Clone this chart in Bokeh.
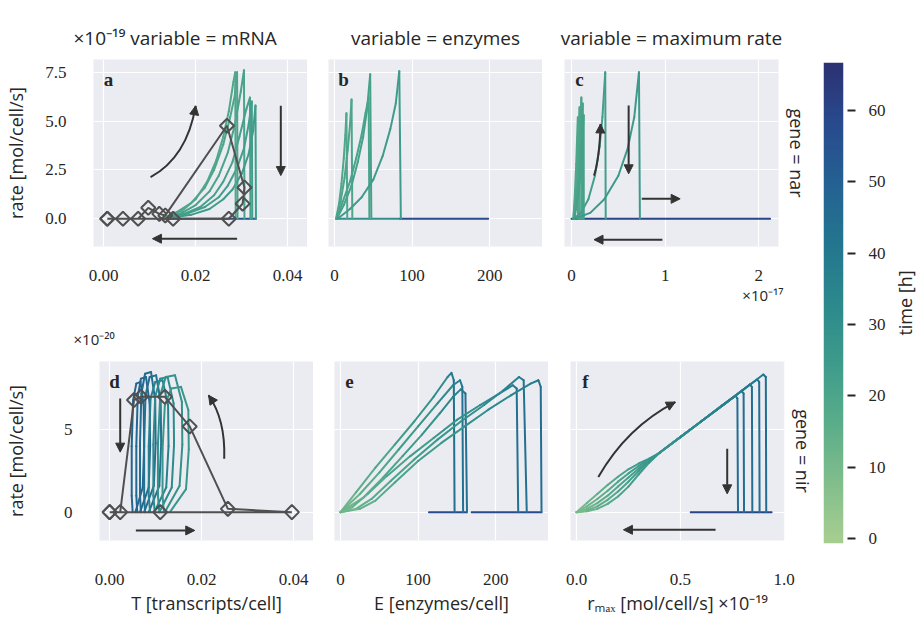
import numpy as np
from bokeh.plotting import figure
from bokeh.models import (Range1d, FixedTicker, PrintfTickFormatter, Label, Arrow, NormalHead,
                          LinearColorMapper, ColumnDataSource, Title)
from bokeh.layouts import row, column
from bokeh.transform import transform
from bokeh.embed import file_html
from bokeh.resources import INLINE

# ---------------- data ----------------
TIME_MAX = 66.7
CBAR_TICKS = [0, 10, 20, 30, 40, 50, 60]

# panel a : nar, rate vs mRNA  (rate in 1e-19 mol/cell/s)
A_X = [[0.0125, 0.016, 0.019, 0.022, 0.024, 0.026, 0.0275, 0.0285, 0.0290, 0.0291],
       [0.0128, 0.017, 0.020, 0.023, 0.025, 0.027, 0.0285, 0.0298, 0.0305, 0.0306],
       [0.0130, 0.018, 0.021, 0.024, 0.026, 0.028, 0.0295, 0.0310, 0.0318, 0.0319],
       [0.0130, 0.018, 0.022, 0.025, 0.027, 0.029, 0.0305, 0.0315, 0.0322, 0.0323],
       [0.0132, 0.019, 0.023, 0.026, 0.028, 0.030, 0.0315, 0.0325, 0.0330, 0.0331],
       [0.0125, 0.017, 0.020, 0.0225, 0.0245, 0.026, 0.0272, 0.0282, 0.0286, 0.0287]]
A_Y = [[0, 0.35, 0.8, 1.6, 2.5, 3.8, 5.2, 6.3, 7.5, 0],
       [0, 0.3, 0.7, 1.4, 2.2, 3.4, 4.8, 6.5, 7.6, 0],
       [0, 0.3, 0.6, 1.2, 1.9, 2.9, 4.2, 5.6, 6.2, 0],
       [0, 0.25, 0.6, 1.1, 1.7, 2.6, 3.6, 4.8, 6.0, 0],
       [0, 0.2, 0.5, 1.0, 1.5, 2.3, 3.3, 4.5, 5.8, 0],
       [0, 0.4, 1.0, 1.9, 3.0, 4.2, 5.5, 7.0, 7.5, 0]]
A_T = [20, 21, 22, 23, 24, 19]
A_BASE_X = [0.0331, 0.0125]
A_BASE_Y = [0, 0]
A_BASE_T = 55
A_DIAM_X = [0.0008, 0.0042, 0.0075, 0.0097, 0.0121, 0.0134, 0.0268, 0.0306, 0.0302, 0.0272, 0.0151, 0.0008]
A_DIAM_Y = [0, 0, 0, 0.56, 0.25, 0.17, 4.76, 1.6, 0.77, 0, 0, 0]

# panel b : nar, rate vs enzymes
B_X = [[2, 6, 9, 12, 14, 15.4, 16.5],
       [2.5, 8, 13, 17, 20, 22, 23],
       [3, 12, 22, 30, 37, 42, 46, 47.5],
       [3, 10, 20, 28, 35, 40, 44, 45],
       [4, 20, 35, 50, 62, 72, 79, 83.5, 85.5]]
B_Y = [[0, 0.8, 1.8, 3.1, 4.3, 5.4, 0],
       [0, 0.9, 2.1, 3.5, 4.8, 6.1, 0],
       [0, 0.7, 1.7, 2.9, 4.2, 5.6, 7.4, 0],
       [0, 0.8, 1.9, 3.1, 4.3, 5.4, 6.2, 0],
       [0, 0.5, 1.1, 2.0, 3.2, 4.6, 5.9, 7.55, 0]]
B_T = [19, 20, 22, 21, 24]
B_BASE_X = [[2, 85], [85, 198]]
B_BASE_T = [30, 58]

# panel c : nar, rate vs maximum rate (x in 1e-17)
C_X = [[0.02, 0.035, 0.05, 0.06, 0.068, 0.069],
       [0.02, 0.04, 0.06, 0.075, 0.086, 0.087],
       [0.025, 0.05, 0.07, 0.09, 0.105, 0.106],
       [0.025, 0.055, 0.08, 0.10, 0.12, 0.121],
       [0.03, 0.06, 0.09, 0.11, 0.13, 0.131],
       [0.02, 0.10, 0.18, 0.25, 0.30, 0.33, 0.36, 0.365],
       [0.03, 0.20, 0.35, 0.50, 0.60, 0.67, 0.72, 0.73]]
C_Y = [[0, 1.2, 2.8, 4.2, 5.2, 0],
       [0, 1.1, 2.7, 4.3, 5.7, 0],
       [0, 1.0, 2.4, 4.2, 6.2, 0],
       [0, 0.9, 2.2, 3.8, 5.9, 0],
       [0, 0.8, 2.0, 3.5, 5.3, 0],
       [0, 0.3, 1.0, 2.2, 3.7, 5.2, 7.5, 0],
       [0, 0.3, 1.0, 2.2, 3.6, 5.2, 7.5, 0]]
C_T = [19, 19, 20, 21, 22, 23, 25]
C_BASE_X = [0.0, 2.12]
C_BASE_T = 60

# panel d : nir, rate vs mRNA (rate in 1e-20)
D_X = [[0.0056, 0.0072, 0.0075, 0.0074, 0.0067, 0.0058, 0.0051, 0.0048, 0.0048, 0.0050],
       [0.0066, 0.0085, 0.0088, 0.0087, 0.0079, 0.0068, 0.0061, 0.0058, 0.0058, 0.0060],
       [0.0075, 0.0096, 0.0100, 0.0099, 0.0090, 0.0077, 0.0069, 0.0066, 0.0066, 0.0068],
       [0.0085, 0.0108, 0.0112, 0.0111, 0.0101, 0.0087, 0.0078, 0.0075, 0.0075, 0.0077],
       [0.0097, 0.0123, 0.0128, 0.0127, 0.0115, 0.0099, 0.0089, 0.0085, 0.0085, 0.0088],
       [0.0108, 0.0135, 0.0140, 0.0139, 0.0126, 0.0110, 0.0099, 0.0095, 0.0095, 0.0098],
       [0.0120, 0.0152, 0.0158, 0.0157, 0.0142, 0.0122, 0.0110, 0.0105, 0.0105, 0.0108],
       [0.0131, 0.0166, 0.0172, 0.0171, 0.0155, 0.0134, 0.0120, 0.0115, 0.0115, 0.0118]]
D_Y = [[0, 1.5, 4.0, 6.5, 7.9, 7.8, 6.8, 4.0, 1.0, 0],
       [0, 1.5, 4.0, 6.6, 8.2, 8.1, 7.0, 4.0, 1.0, 0],
       [0, 1.6, 4.2, 6.8, 8.5, 8.4, 7.2, 4.2, 1.0, 0],
       [0, 1.6, 4.1, 6.7, 8.3, 8.2, 7.1, 4.1, 1.0, 0],
       [0, 1.5, 4.0, 6.5, 8.0, 7.9, 6.9, 4.0, 1.0, 0],
       [0, 1.5, 4.1, 6.6, 8.2, 8.1, 7.0, 4.1, 1.0, 0],
       [0, 1.6, 4.1, 6.7, 8.3, 8.2, 7.1, 4.1, 1.0, 0],
       [0, 1.4, 3.8, 6.2, 7.6, 7.5, 6.5, 3.8, 1.0, 0]]
D_T = [48, 47, 45, 43, 36, 32, 29, 27]
D_DIAM_X = [0.0, 0.011, 0.0396, 0.0257, 0.0174, 0.0120, 0.0068, 0.0053, 0.0023, 0.0]
D_DIAM_Y = [0, 0, 0, 0.2, 5.2, 7.0, 7.0, 6.8, 0, 0]

# panel e : nir, rate vs enzymes
E_X = [[0, 20, 45, 70, 95, 120, 138, 143, 146, 147],
       [0, 25, 50, 75, 100, 125, 145, 154, 157, 158],
       [0, 30, 55, 80, 105, 128, 145, 155, 161, 163],
       [0, 15, 35, 60, 90, 120, 150, 180, 205, 222, 227, 229],
       [0, 20, 40, 65, 95, 125, 155, 185, 210, 230, 236, 240],
       [0, 25, 45, 70, 100, 130, 160, 190, 220, 245, 255, 258, 259]]
E_Y = [[0, 1.2, 2.7, 4.1, 5.5, 7.0, 8.2, 8.45, 8.0, 0],
       [0, 1.1, 2.4, 3.8, 5.2, 6.6, 7.7, 8.0, 7.6, 0],
       [0, 0.9, 2.1, 3.4, 4.7, 6.0, 7.0, 7.45, 7.2, 0],
       [0, 0.3, 1.1, 2.2, 3.4, 4.5, 5.6, 6.5, 7.2, 7.7, 7.5, 0],
       [0, 0.2, 0.8, 1.9, 3.2, 4.4, 5.5, 6.5, 7.4, 8.2, 8.0, 0],
       [0, 0.2, 0.7, 1.8, 3.1, 4.2, 5.2, 6.2, 7.1, 7.8, 8.0, 7.6, 0]]
E_T = [[10, 14, 18, 22, 26, 30, 34, 38, 42, 46],
       [10, 14, 18, 22, 26, 30, 34, 38, 42, 46],
       [10, 14, 18, 22, 26, 30, 34, 38, 42, 46],
       [10, 13, 16, 19, 22, 25, 28, 31, 34, 38, 42, 46],
       [10, 13, 16, 19, 22, 25, 28, 31, 34, 38, 42, 46],
       [10, 13, 16, 19, 22, 25, 28, 31, 34, 37, 40, 43, 47]]
E_BASE_X = [[114, 163], [169, 259]]
E_BASE_T = 58

# panel f : nir, rate vs maximum rate (x in 1e-19)
F_X = [[0, 0.05, 0.1, 0.15, 0.2, 0.25, 0.3, 0.35, 0.4, 0.5, 0.6, 0.7, 0.765, 0.775, 0.778],
       [0, 0.05, 0.1, 0.15, 0.2, 0.25, 0.3, 0.35, 0.4, 0.5, 0.6, 0.7, 0.795, 0.805, 0.807],
       [0, 0.05, 0.1, 0.15, 0.2, 0.25, 0.3, 0.35, 0.4, 0.5, 0.6, 0.7, 0.8, 0.835, 0.845, 0.847],
       [0, 0.05, 0.1, 0.15, 0.2, 0.25, 0.3, 0.35, 0.4, 0.5, 0.6, 0.7, 0.8, 0.87, 0.88, 0.882],
       [0, 0.05, 0.1, 0.15, 0.2, 0.25, 0.3, 0.35, 0.4, 0.5, 0.6, 0.7, 0.8, 0.9, 0.912, 0.914]]
F_Y = [[0, 0.55, 1.1, 1.65, 2.15, 2.6, 2.95, 3.25, 3.6, 4.55, 5.5, 6.45, 7.05, 6.9, 0],
       [0, 0.35, 0.8, 1.3, 1.85, 2.35, 2.8, 3.2, 3.6, 4.55, 5.5, 6.45, 7.35, 7.2, 0],
       [0, 0.2, 0.55, 1.0, 1.55, 2.1, 2.65, 3.15, 3.6, 4.55, 5.5, 6.45, 7.4, 7.75, 7.6, 0],
       [0, 0.1, 0.35, 0.75, 1.25, 1.85, 2.5, 3.1, 3.6, 4.55, 5.5, 6.45, 7.4, 8.05, 7.9, 0],
       [0, 0.05, 0.2, 0.5, 0.95, 1.55, 2.3, 3.0, 3.6, 4.55, 5.5, 6.45, 7.4, 8.35, 8.2, 0]]
F_T = [[8, 11, 14, 17, 20, 22, 24, 26, 28, 31, 34, 37, 40, 43, 47],
       [8, 11, 14, 17, 20, 22, 24, 26, 28, 31, 34, 37, 40, 43, 47],
       [8, 11, 14, 17, 20, 22, 24, 26, 28, 31, 34, 37, 39, 41, 43, 47],
       [8, 11, 14, 17, 20, 22, 24, 26, 28, 31, 34, 37, 39, 41, 43, 47],
       [8, 11, 14, 17, 20, 22, 24, 26, 28, 31, 34, 37, 39, 41, 43, 47]]
F_BASE_X = [0.55, 0.94]
F_BASE_T = 60

# arrows: (x_start, y_start, x_end, y_end); curved: (x0, y0, cx, cy, x1, y1)
A_ARROWS = [(0.0385, 5.78, 0.0385, 2.21), (0.0290, -1.02, 0.0106, -1.02)]
A_CURVED = [(0.0102, 2.13, 0.0181, 3.15, 0.0200, 5.78)]
C_ARROWS = [(0.61, 5.8, 0.61, 2.3), (0.75, 1.02, 1.16, 1.02), (0.97, -1.07, 0.24, -1.07)]
C_CURVED = [(0.24, 2.21, 0.30, 3.1, 0.31, 4.85)]
D_ARROWS = [(0.0023, 6.9, 0.0023, 3.64), (0.0057, -1.11, 0.0185, -1.11)]
D_CURVED = [(0.0249, 3.24, 0.0252, 5.6, 0.0215, 7.09)]
F_ARROWS = [(0.726, 3.85, 0.726, 1.11), (0.67, -1.07, 0.226, -1.07)]
F_CURVED = [(0.105, 2.13, 0.242, 5.16, 0.476, 6.68)]

# texts
TITLES = ["variable = mRNA", "variable = enzymes", "variable = maximum rate"]
ROWS = ["gene = nar", "gene = nir"]
YLABEL = "rate [mol/cell/s]"
XLABELS = ["T [transcripts/cell]", "E [enzymes/cell]", "rₘₐₓ [mol/cell/s]"]
LETTERS = ["a", "b", "c", "d", "e", "f"]
CBAR_LABEL = "time [h]"

# ---------------- styling ----------------
BG = "#EBEBF2"
TXT = "#262626"
GREY = "#505050"
ARROW_C = "#333333"
SANS = "Open Sans"
SERIF = "Liberation Serif"
TICK_SIZE = "17px"
LABEL_SIZE = "18px"

anchors = [(0.00, (165, 205, 144)), (0.125, (125, 188, 139)), (0.25, (88, 172, 138)),
           (0.375, (60, 154, 139)), (0.5, (43, 136, 140)), (0.625, (35, 117, 143)),
           (0.75, (36, 97, 146)), (0.875, (40, 74, 142)), (1.0, (44, 49, 114))]
pos = np.linspace(0, 1, 256)
ap = [a[0] for a in anchors]
chans = [np.interp(pos, ap, [a[1][k] for a in anchors]) for k in range(3)]
PALETTE = ["#%02x%02x%02x" % (int(round(r)), int(round(g)), int(round(b)))
           for r, g, b in zip(*chans)]
mapper = LinearColorMapper(palette=PALETTE, low=0, high=TIME_MAX)

FW = 214
FH1, FH2 = 187, 179
BT1, BB1 = 59, 67
BT2, BB2 = 45, 70


def style_title(t, size=LABEL_SIZE):
    t.text_font = SANS
    t.text_font_size = size
    t.text_font_style = "normal"
    t.text_color = TXT


def make_fig(xr, yr, fh, bl, br, bt, bb, xticks, xfmt, yticks, yfmt, show_y):
    p = figure(frame_width=FW, frame_height=fh, x_range=Range1d(*xr), y_range=Range1d(*yr),
               min_border_left=bl, min_border_right=br, min_border_top=bt, min_border_bottom=bb,
               output_backend="svg", toolbar_location=None)
    p.background_fill_color = BG
    p.border_fill_color = "white"
    p.outline_line_color = None
    p.grid.grid_line_color = "white"
    p.grid.grid_line_width = 1.2
    p.xaxis.ticker = FixedTicker(ticks=xticks)
    p.xaxis.formatter = PrintfTickFormatter(format=xfmt)
    p.yaxis.ticker = FixedTicker(ticks=yticks)
    p.yaxis.formatter = PrintfTickFormatter(format=yfmt)
    for ax in (p.xaxis, p.yaxis):
        ax.axis_line_color = None
        ax.major_tick_line_color = None
        ax.minor_tick_line_color = None
        ax.major_label_text_font = SERIF
        ax.major_label_text_font_size = TICK_SIZE
        ax.major_label_text_color = TXT
        ax.axis_label_text_font = SANS
        ax.axis_label_text_font_size = LABEL_SIZE
        ax.axis_label_text_font_style = "normal"
        ax.axis_label_text_color = TXT
    p.xaxis.major_label_standoff = 17
    p.yaxis.major_label_standoff = 21
    if not show_y:
        p.yaxis.visible = False
    else:
        p.yaxis.axis_label = YLABEL
    return p


def fx(p, px):
    return p.x_range.start + px * (p.x_range.end - p.x_range.start) / p.frame_width


def fy(p, py):
    return p.y_range.start + py * (p.y_range.end - p.y_range.start) / p.frame_height


def draw_path(p, xs, ys, ts, width=2.0):
    xs = np.asarray(xs, float)
    ys = np.asarray(ys, float)
    ts = np.broadcast_to(np.asarray(ts, float), xs.shape)
    src = ColumnDataSource(dict(x0=xs[:-1], y0=ys[:-1], x1=xs[1:], y1=ys[1:],
                                t=(ts[:-1] + ts[1:]) / 2))
    p.segment("x0", "y0", "x1", "y1", source=src, line_color=transform("t", mapper),
              line_width=width, line_cap="round", line_join="round")


def draw_diamonds(p, xs, ys):
    p.line(xs, ys, line_color=GREY, line_width=2)
    p.scatter(xs, ys, marker="square", angle=np.pi / 4, size=10, fill_color=None,
              line_color=GREY, line_width=2)


def draw_arrows(p, straight, curved):
    for (x0, y0, x1, y1) in straight:
        p.add_layout(Arrow(end=NormalHead(size=9, fill_color=ARROW_C, line_color=ARROW_C),
                           x_start=x0, y_start=y0, x_end=x1, y_end=y1,
                           line_color=ARROW_C, line_width=2))
    for (x0, y0, cx, cy, x1, y1) in curved:
        p.quadratic(x0=[x0], y0=[y0], x1=[x1], y1=[y1], cx=[cx], cy=[cy],
                    line_color=ARROW_C, line_width=2)
        p.add_layout(Arrow(end=NormalHead(size=9, fill_color=ARROW_C, line_color=ARROW_C),
                           x_start=cx, y_start=cy, x_end=x1, y_end=y1,
                           line_alpha=0, line_width=0))


YR1 = (-1.42, 8.15)
YR2 = (-1.72, 9.14)
Y1T = [0, 2.5, 5.0, 7.5]
Y2T = [0, 5]
XR_T = (-0.0022, 0.0443)
XR_E = (-7.7, 268)

pa = make_fig(XR_T, YR1, FH1, 93, 0, BT1, BB1, [0, 0.02, 0.04], "%.2f", Y1T, "%.1f", True)
pb = make_fig(XR_E, YR1, FH1, 21, 0, BT1, BB1, [0, 100, 200], "%d", Y1T, "%.1f", False)
pc = make_fig((-0.075, 2.21), YR1, FH1, 22, 25, BT1, BB1, [0, 1, 2], "%d", Y1T, "%.1f", False)
pd = make_fig(XR_T, YR2, FH2, 93, 0, BT2, BB2, [0, 0.02, 0.04], "%.2f", Y2T, "%d", True)
pe = make_fig(XR_E, YR2, FH2, 21, 0, BT2, BB2, [0, 100, 200], "%d", Y2T, "%d", False)
pf = make_fig((-0.029, 1.002), YR2, FH2, 22, 25, BT2, BB2, [0, 0.5, 1.0], "%.1f", Y2T, "%d", False)
pa.yaxis.axis_label_standoff = 14
pd.yaxis.axis_label_standoff = 33

# column titles (panel a carries the exponent of its y axis on the same line)
pa.title.text = "×10⁻¹⁹ " + TITLES[0]
pa.title.align = "left"
pa.title.offset = -20
for p, t in ((pb, TITLES[1]), (pc, TITLES[2])):
    p.title.text = t
    p.title.align = "center"
for p in (pa, pb, pc):
    p.title.standoff = 18
    style_title(p.title, "19px")

# exponent of panel d y axis
pd.title.text = "×10⁻²⁰"
pd.title.align = "left"
pd.title.offset = -26
pd.title.standoff = 26
style_title(pd.title, "15px")

# exponent of panel c x axis
tc = Title(text="×10⁻¹⁷", align="right", offset=-5, vertical_align="top", standoff=2)
style_title(tc, "15px")
pc.add_layout(tc, "below")

# bottom row x-axis labels
pd.xaxis.axis_label = XLABELS[0]
pe.xaxis.axis_label = XLABELS[1]
pf.xaxis.axis_label = XLABELS[2] + " ×10⁻¹⁹"
for p in (pd, pe, pf):
    p.xaxis.major_label_standoff = 27
    p.xaxis.axis_label_standoff = 3

# row titles on the right
for p, t in ((pc, ROWS[0]), (pf, ROWS[1])):
    rt = Title(text=t, align="center", standoff=12)
    style_title(rt)
    p.add_layout(rt, "right")

# panel a
draw_path(pa, A_BASE_X, A_BASE_Y, A_BASE_T)
for xs, ys, t in zip(A_X, A_Y, A_T):
    draw_path(pa, xs, ys, t)
draw_diamonds(pa, A_DIAM_X, A_DIAM_Y)
draw_arrows(pa, A_ARROWS, A_CURVED)

# panel b
for xs, t in zip(B_BASE_X, B_BASE_T):
    draw_path(pb, xs, [0, 0], t)
for xs, ys, t in zip(B_X, B_Y, B_T):
    draw_path(pb, xs, ys, t)

# panel c
draw_path(pc, C_BASE_X, [0, 0], C_BASE_T)
for xs, ys, t in zip(C_X, C_Y, C_T):
    draw_path(pc, xs, ys, t)
draw_arrows(pc, C_ARROWS, C_CURVED)

# panel d
for xs, ys, t in zip(D_X, D_Y, D_T):
    draw_path(pd, xs, ys, t)
draw_diamonds(pd, D_DIAM_X, D_DIAM_Y)
draw_arrows(pd, D_ARROWS, D_CURVED)

# panel e
for xs in E_BASE_X:
    draw_path(pe, xs, [0, 0], E_BASE_T)
for xs, ys, t in zip(E_X, E_Y, E_T):
    draw_path(pe, xs, ys, t)

# panel f
draw_path(pf, F_BASE_X, [0, 0], F_BASE_T)
for xs, ys, t in zip(F_X, F_Y, F_T):
    draw_path(pf, xs, ys, t)
draw_arrows(pf, F_ARROWS, F_CURVED)

# panel letters (inside the frames)
for p, letter, fh in zip((pa, pb, pc, pd, pe, pf), LETTERS, (FH1, FH1, FH1, FH2, FH2, FH2)):
    p.add_layout(Label(x=fx(p, 15), y=fy(p, fh - 20), text=letter, text_font=SERIF,
                       text_font_size="19px", text_font_style="bold", text_align="center",
                       text_baseline="middle", text_color=TXT))

# colour bar
CB_LOW = -0.7
cb = figure(frame_width=20, frame_height=481, x_range=Range1d(0, 1), y_range=Range1d(CB_LOW, TIME_MAX),
            min_border_left=1, min_border_right=46, min_border_top=62, min_border_bottom=65,
            x_axis_location=None, y_axis_location="right",
            output_backend="svg", toolbar_location=None)
cb.grid.visible = False
cb.outline_line_color = None
cb.border_fill_color = "white"
grad = np.linspace(CB_LOW, TIME_MAX, 256).reshape(256, 1)
cb.image(image=[grad], x=0, y=CB_LOW, dw=1, dh=TIME_MAX - CB_LOW, color_mapper=mapper)
cb.yaxis.ticker = FixedTicker(ticks=CBAR_TICKS)
cb.yaxis.axis_line_color = None
cb.yaxis.major_tick_out = 12
cb.yaxis.major_tick_in = -4
cb.yaxis.major_tick_line_width = 2
cb.yaxis.major_tick_line_color = TXT
cb.yaxis.minor_tick_line_color = None
cb.yaxis.major_label_text_font = SERIF
cb.yaxis.major_label_text_font_size = TICK_SIZE
cb.yaxis.major_label_text_color = TXT
cb.yaxis.major_label_standoff = 13

# colour-bar label, reading upwards, as the left title of a slim companion figure
lbl = figure(frame_width=1, frame_height=481, x_range=Range1d(0, 1), y_range=Range1d(0, 1),
             min_border_left=27, min_border_right=0, min_border_top=62, min_border_bottom=65,
             x_axis_location=None, y_axis_location=None,
             output_backend="svg", toolbar_location=None)
lbl.outline_line_color = None
lbl.border_fill_color = "white"
lbl.background_fill_color = "white"
lbl.grid.visible = False
lt = Title(text=CBAR_LABEL, align="center", standoff=3)
style_title(lt)
lbl.add_layout(lt, "left")
lbl.scatter([0.5], [0.5], size=0, alpha=0)

layout = row(column(row(pa, pb, pc), row(pd, pe, pf)), cb, lbl)
open("out.html", "w").write(file_html(layout, INLINE))
